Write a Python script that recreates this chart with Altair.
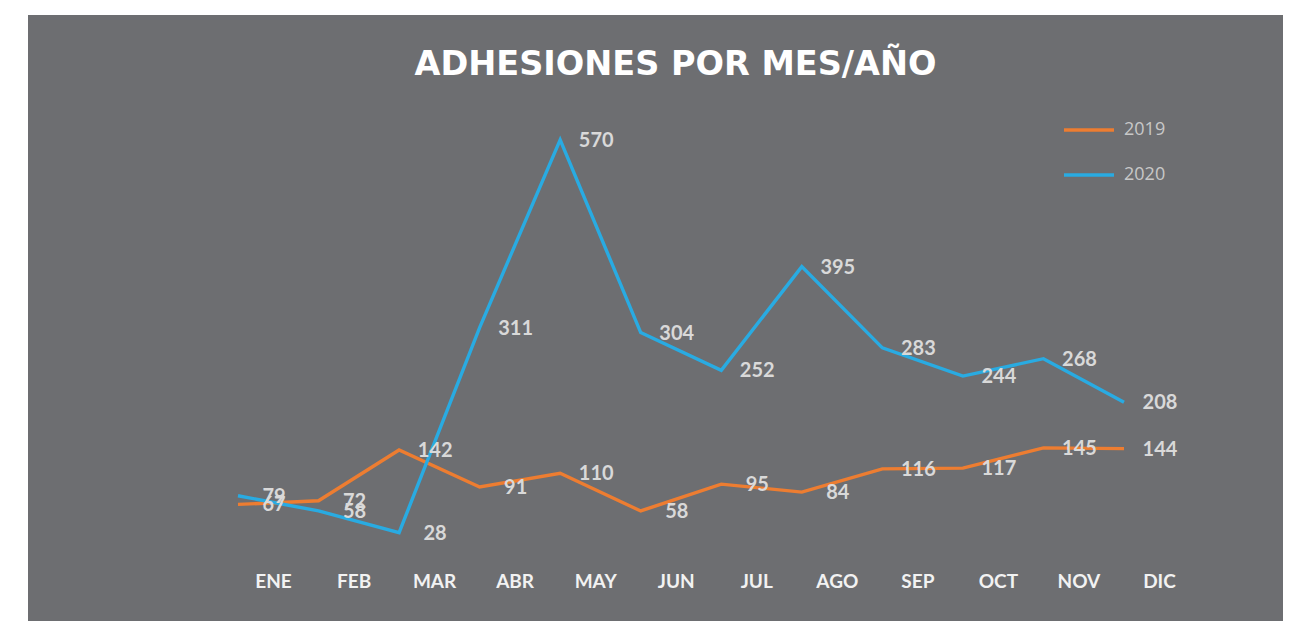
import altair as alt
import pandas as pd

months = ["ENE", "FEB", "MAR", "ABR", "MAY", "JUN", "JUL", "AGO", "SEP", "OCT", "NOV", "DIC"]
v2019 = [67, 72, 142, 91, 110, 58, 95, 84, 116, 117, 145, 144]
v2020 = [79, 58, 28, 311, 570, 304, 252, 395, 283, 244, 268, 208]
series = ["2019", "2020"]
colors = ["#ed7d31", "#29abe2"]

rows = []
for i, m in enumerate(months):
    rows.append({"mes": m, "serie": "2019", "valor": v2019[i], "orden": i})
    rows.append({"mes": m, "serie": "2020", "valor": v2020[i], "orden": i})
df = pd.DataFrame(rows)

BG = "#6d6e71"
FONT = "Lato"

x_enc = alt.X("mes:N", sort=months,
              scale=alt.Scale(type="point", range=[210, 1096], padding=0),
              axis=alt.Axis(title=None, domain=False, ticks=False, grid=False,
                            labelAngle=0, labelFont=FONT, labelFontWeight="bold",
                            labelFontSize=19, labelColor="#f2f2f2",
                            labelPadding=0, labelBaseline="middle",
                            labelOffset=35, offset=-40))
y_enc = alt.Y("valor:Q", scale=alt.Scale(domain=[0, 600], range=[538, 103], nice=False, zero=True),
              axis=None)

base = alt.Chart(df)

lines = base.mark_line(strokeWidth=3.4).encode(
    x=x_enc, y=y_enc,
    color=alt.Color("serie:N", scale=alt.Scale(domain=series, range=colors),
                    legend=alt.Legend(title=None, orient="none", legendX=1034, legendY=88,
                                      symbolType="stroke", symbolSize=2500,
                                      symbolStrokeWidth=3.5, rowPadding=9,
                                      labelFont="Open Sans", labelFontSize=18,
                                      labelColor="#c8c8c8", labelOffset=8)),
    order="orden:Q",
)

labels = base.mark_text(dx=36, dy=1, font=FONT, fontWeight="bold", fontSize=20,
                        color="#d9d9d9", align="center", baseline="middle").encode(
    x=alt.X("mes:N", sort=months), y="valor:Q", text="valor:Q",
)

chart = alt.layer(lines, labels).properties(
    width=1255, height=606,
    autosize=alt.AutoSizeParams(type="none"),
    padding={"left": 20, "top": 7, "right": 0, "bottom": 0},
    title=alt.TitleParams("ADHESIONES POR MES/AÑO", font="DejaVu Sans", fontWeight="bold",
                          fontSize=33.5, color="#ffffff", anchor="middle", orient="top",
                          baseline="middle", offset=-83, dx=20),
).configure(background="#ffffff").configure_view(fill=BG, strokeWidth=0)

chart.save("out.html", embed_options={"renderer": "svg", "actions": False})
